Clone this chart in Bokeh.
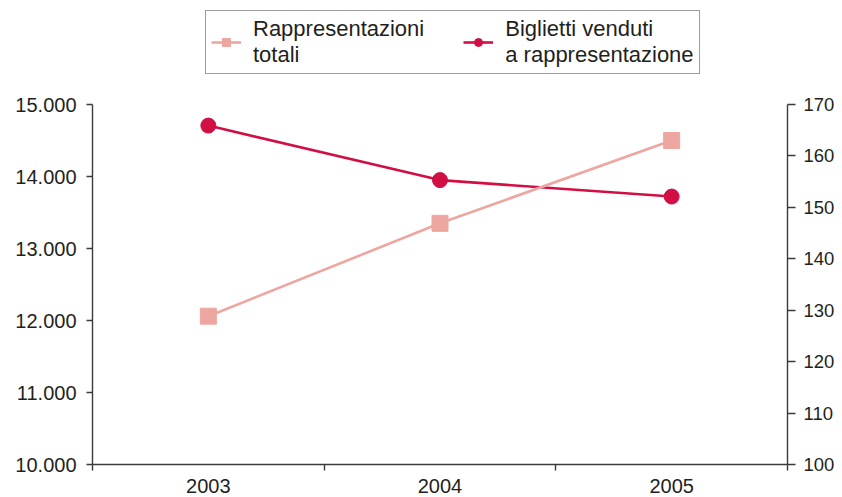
from bokeh.plotting import figure
from bokeh.models import Range1d, LinearAxis, FixedTicker, Legend, LegendItem
from bokeh.embed import file_html
from bokeh.resources import INLINE

# ---- data ----
years = ["2003", "2004", "2005"]
rappresentazioni = [12060, 13350, 14500]      # left axis
biglietti = [165.9, 155.3, 152.1]             # right axis
left_ticks = [10000, 11000, 12000, 13000, 14000, 15000]
left_labels = ["10.000", "11.000", "12.000", "13.000", "14.000", "15.000"]
right_ticks = [100, 110, 120, 130, 140, 150, 160, 170]
right_labels = ["100", "110", "120", "130", "140", "150", "160", "170"]
series_names = ["Rappresentazioni\ntotali", "Biglietti venduti\na rappresentazione"]

xpos = [i + 0.5 for i in range(len(years))]
bounds = list(range(len(years) + 1))

# layout: the frame runs to the top of the canvas so the legend can sit inside it;
# the axes themselves are limited to their value span with `bounds`.
W, H = 842, 497
LEFT, RIGHT, BOTTOM = 92, 55, 33
AXIS_PX = 360          # pixel height of the value span
FRAME_PX = H - BOTTOM  # frame height (top border 0)
ext = FRAME_PX / AXIS_PX

def extended(lo, hi):
    return Range1d(lo, lo + (hi - lo) * ext)

AX = "#3a3a3a"
TXT = "#231f20"
FONT = "Liberation Sans"
PINK = "#EDA6A0"
RED = "#D20F44"

p = figure(width=W, height=H, output_backend="svg", toolbar_location=None,
           x_range=Range1d(bounds[0], bounds[-1]),
           y_range=extended(left_ticks[0], left_ticks[-1]),
           min_border_left=LEFT, min_border_right=RIGHT, min_border_top=0,
           min_border_bottom=BOTTOM, x_axis_location=None, y_axis_location=None)
p.extra_y_ranges = {"right": extended(right_ticks[0], right_ticks[-1])}
p.outline_line_color = None
p.xgrid.visible = False
p.ygrid.visible = False
p.background_fill_color = "white"
p.border_fill_color = "white"

def style(ax, size):
    ax.axis_line_color = AX
    ax.axis_line_width = 1.4
    ax.major_tick_line_color = AX
    ax.major_tick_line_width = 1.4
    ax.minor_tick_line_color = AX
    ax.minor_tick_line_width = 1.4
    ax.major_label_text_color = TXT
    ax.major_label_text_font = FONT
    ax.major_label_text_font_size = size

# x axis: labels at category centres, ticks at category boundaries
xa = LinearAxis(ticker=FixedTicker(ticks=xpos, minor_ticks=bounds))
xa.major_label_overrides = {x: y for x, y in zip(xpos, years)}
style(xa, "20px")
xa.major_tick_in = 0
xa.major_tick_out = 0
xa.minor_tick_in = 0
xa.minor_tick_out = 6
xa.major_label_standoff = 8
p.add_layout(xa, "below")

# left axis
ya = LinearAxis(ticker=FixedTicker(ticks=left_ticks, minor_ticks=[]),
                bounds=(left_ticks[0], left_ticks[-1]))
ya.major_label_overrides = {t: l for t, l in zip(left_ticks, left_labels)}
style(ya, "20px")
ya.major_tick_in = 0
ya.major_tick_out = 6
ya.major_label_standoff = 10
p.add_layout(ya, "left")

# right axis
ra = LinearAxis(y_range_name="right", ticker=FixedTicker(ticks=right_ticks, minor_ticks=[]),
                bounds=(right_ticks[0], right_ticks[-1]))
ra.major_label_overrides = {t: l for t, l in zip(right_ticks, right_labels)}
style(ra, "18.5px")
ra.major_tick_in = 0
ra.major_tick_out = 8
ra.major_label_standoff = 8
p.add_layout(ra, "right")

# series
l2 = p.line(xpos, biglietti, y_range_name="right", line_color=RED, line_width=2.6)
s2 = p.scatter(xpos, biglietti, y_range_name="right", marker="circle", size=15,
               fill_color=RED, line_color=RED)
l1 = p.line(xpos, rappresentazioni, line_color=PINK, line_width=2.6)
s1 = p.scatter(xpos, rappresentazioni, marker="square", size=16,
               fill_color=PINK, line_color=PINK)

legend = Legend(items=[LegendItem(label=series_names[0], renderers=[l1, s1]),
                       LegendItem(label=series_names[1], renderers=[l2, s2])],
                orientation="horizontal", location=(205 - LEFT, FRAME_PX - 74), margin=0,
                padding=5, spacing=39, glyph_width=30, glyph_height=20,
                label_standoff=12, label_text_font=FONT, label_text_font_size="22px",
                label_text_line_height=1.0,
                label_text_color=TXT, border_line_color=AX, border_line_width=1.5,
                background_fill_color="white", background_fill_alpha=1)
p.add_layout(legend, "center")

open("out.html", "w").write(file_html(p, INLINE))
